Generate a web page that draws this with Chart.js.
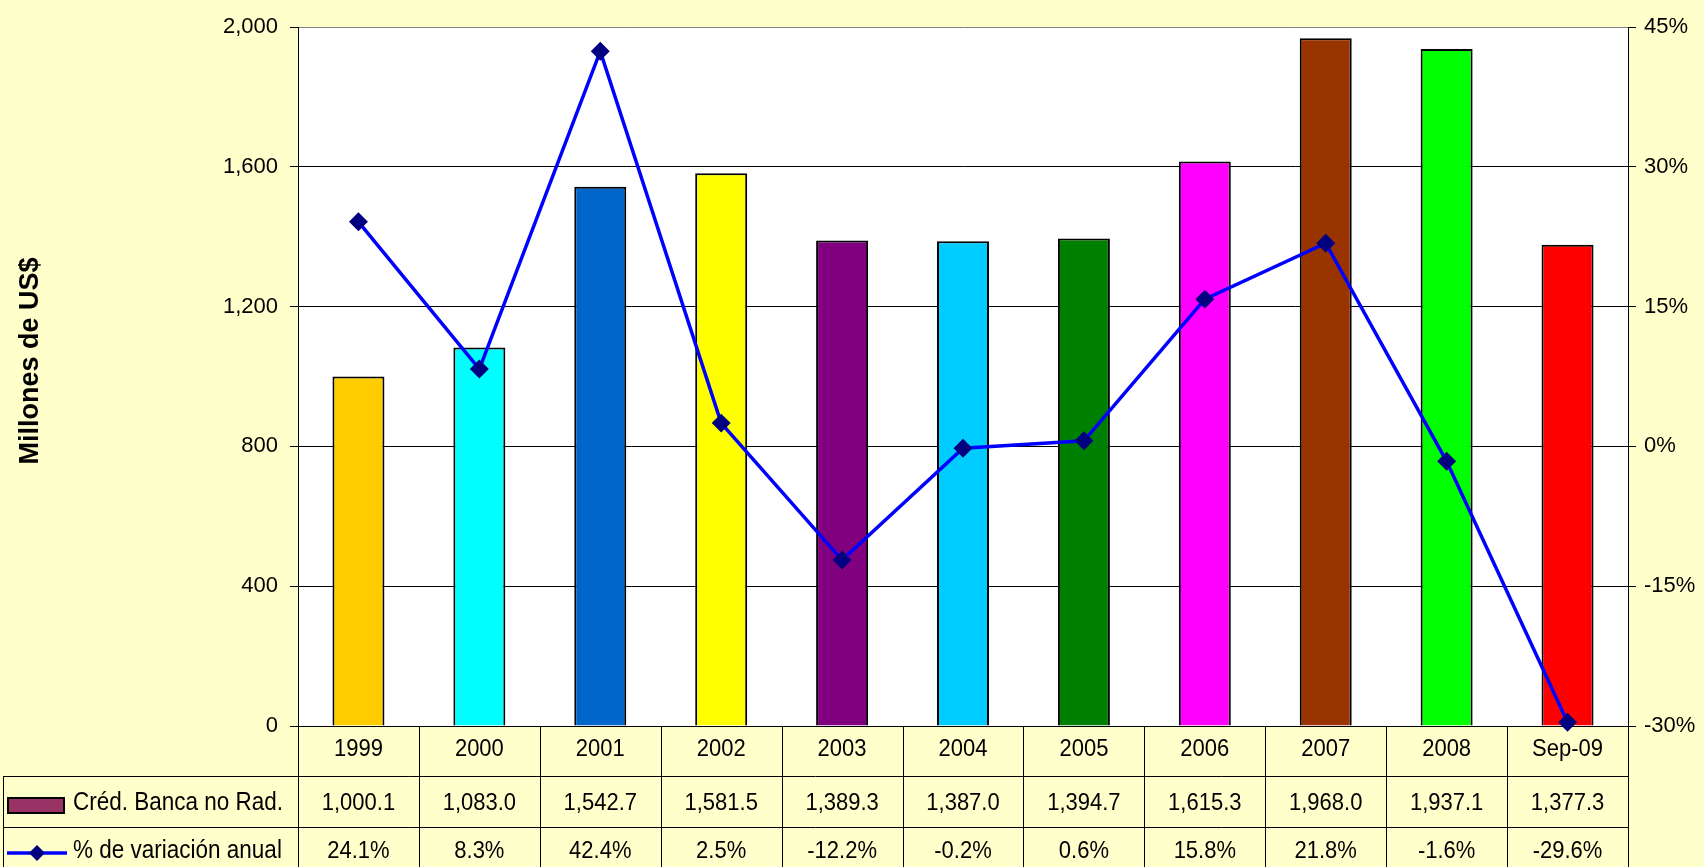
<!DOCTYPE html>
<html lang="es">
<head>
    <meta charset="UTF-8">
    <title>Créd. Banca no Rad.</title>
    <script src="https://cdn.jsdelivr.net/npm/chart.js"></script>
    <style>
        html, body { margin: 0; padding: 0; background: #FFFFCC; }
        #wrap { width: 1704px; height: 867px; }
    </style>
</head>
<body>
    <div id="wrap"><canvas id="myChart" width="1704" height="867"></canvas></div>

    <script>
        const categories = ['1999', '2000', '2001', '2002', '2003', '2004', '2005', '2006', '2007', '2008', 'Sep-09'];
        const credito = [1000.1, 1083.0, 1542.7, 1581.5, 1389.3, 1387.0, 1394.7, 1615.3, 1968.0, 1937.1, 1377.3];
        const variacion = [24.1, 8.3, 42.4, 2.5, -12.2, -0.2, 0.6, 15.8, 21.8, -1.6, -29.6];
        const barColors = ['#FFCC00', '#00FFFF', '#0066CC', '#FFFF00', '#800080', '#00CCFF', '#008000', '#FF00FF', '#993300', '#00FF00', '#FF0000'];
        const leftTicks = [0, 400, 800, 1200, 1600, 2000];
        const rightTicks = [-30, -15, 0, 15, 30, 45];

        const FONT = 'Liberation Sans, Arial, sans-serif';

        // slightly taller text, like the original
        function tallText(ctx, s, x, y) {
            ctx.save();
            ctx.translate(x, y);
            ctx.scale(1, 1.12);
            ctx.fillText(s, 0, 0);
            ctx.restore();
        }

        // background, axis title and data table under the plot
        const tablePlugin = {
            id: 'tablePlugin',
            beforeDraw(chart) {
                const { ctx, chartArea: a } = chart;
                ctx.save();
                ctx.fillStyle = '#FFFFCC';
                ctx.fillRect(0, 0, chart.width, chart.height);
                ctx.fillStyle = '#FFFFFF';
                ctx.fillRect(a.left, a.top, a.right - a.left, a.bottom - a.top);
                ctx.restore();
            },
            afterDraw(chart) {
                const { ctx, chartArea: a } = chart;
                const x = chart.scales.x;
                const n = categories.length;
                const w = (a.right - a.left) / n;
                const r1 = a.bottom, r2 = a.bottom + 50, r3 = a.bottom + 101, bot = chart.height;
                const tLeft = 3;
                ctx.save();

                // y axis title
                ctx.save();
                ctx.translate(31, 361);
                ctx.rotate(-Math.PI / 2);
                ctx.font = 'bold 27px ' + FONT;
                ctx.fillStyle = '#000000';
                ctx.textAlign = 'center';
                ctx.textBaseline = 'middle';
                ctx.fillText('Millones de US$', 0, 0);
                ctx.restore();

                ctx.strokeStyle = '#000000';
                ctx.lineWidth = 1;
                ctx.beginPath();
                for (let i = 0; i <= n; i++) {
                    const xx = Math.round(a.left + i * w) + 0.5;
                    ctx.moveTo(xx, r1); ctx.lineTo(xx, bot);
                }
                ctx.moveTo(tLeft + 0.5, r2); ctx.lineTo(tLeft + 0.5, bot);
                ctx.moveTo(tLeft, r2 + 0.5); ctx.lineTo(a.right, r2 + 0.5);
                ctx.moveTo(tLeft, r3 + 0.5); ctx.lineTo(a.right, r3 + 0.5);
                ctx.stroke();

                ctx.fillStyle = '#000000';
                ctx.font = '22px ' + FONT;
                ctx.textAlign = 'center';
                ctx.textBaseline = 'middle';
                categories.forEach((c, i) => {
                    const cx = x.getPixelForValue(i);
                    tallText(ctx, c, cx, r1 + 23);
                    tallText(ctx, credito[i].toLocaleString('en-US', { minimumFractionDigits: 1, maximumFractionDigits: 1 }), cx, r2 + 27);
                    tallText(ctx, variacion[i].toFixed(1) + '%', cx, r3 + 24);
                });

                // legend keys
                ctx.textAlign = 'left';
                ctx.fillStyle = '#993366';
                ctx.fillRect(8, r2 + 22, 56, 15);
                ctx.lineWidth = 2;
                ctx.strokeRect(8, r2 + 22, 56, 15);
                ctx.fillStyle = '#000000';
                ctx.font = '22.5px ' + FONT;
                tallText(ctx, 'Créd. Banca no Rad.', 73, r2 + 27);

                ctx.strokeStyle = '#0000FF';
                ctx.lineWidth = 3.5;
                ctx.beginPath();
                ctx.moveTo(7, r3 + 26); ctx.lineTo(67, r3 + 26);
                ctx.stroke();
                ctx.fillStyle = '#000080';
                ctx.beginPath();
                ctx.moveTo(37, r3 + 18); ctx.lineTo(45, r3 + 26); ctx.lineTo(37, r3 + 34); ctx.lineTo(29, r3 + 26);
                ctx.closePath(); ctx.fill();
                ctx.fillStyle = '#000000';
                tallText(ctx, '% de variación anual', 73, r3 + 24);
                ctx.restore();
            }
        };

        const ctx = document.getElementById('myChart').getContext('2d');
        const myChart = new Chart(ctx, {
            data: {
                labels: categories,
                datasets: [{
                    type: 'line',
                    label: '% de variación anual',
                    data: variacion,
                    yAxisID: 'y1',
                    borderColor: '#0000FF',
                    borderWidth: 3.5,
                    pointStyle: 'rectRot',
                    pointRadius: 7,
                    pointBackgroundColor: '#000080',
                    pointBorderColor: '#000080',
                    tension: 0,
                    clip: false,
                    order: 0
                }, {
                    type: 'bar',
                    label: 'Créd. Banca no Rad.',
                    data: credito,
                    yAxisID: 'y',
                    backgroundColor: barColors,
                    borderColor: '#000000',
                    borderWidth: 2,
                    categoryPercentage: 1,
                    barPercentage: 0.43,
                    order: 1
                }]
            },
            options: {
                responsive: false,
                animation: false,
                layout: { padding: { top: 27, left: 0, right: 0, bottom: 0 } },
                plugins: {
                    legend: { display: false },
                    tooltip: { enabled: false }
                },
                scales: {
                    x: {
                        grid: { display: false },
                        border: { color: '#000000', width: 1 },
                        ticks: { display: false },
                        afterFit(s) { s.height = 141; }
                    },
                    y: {
                        position: 'left',
                        min: 0,
                        max: 2000,
                        afterBuildTicks(s) { s.ticks = leftTicks.map(v => ({ value: v })); },
                        ticks: {
                            font: { family: FONT, size: 22 },
                            color: '#000000',
                            padding: 12,
                            callback: v => v.toLocaleString('en-US')
                        },
                        grid: {
                            color: c => c.tick && c.tick.value === 2000 ? '#808080' : '#000000',
                            tickLength: 8,
                            tickColor: '#000000'
                        },
                        border: { color: '#000000', width: 1 },
                        afterFit(s) { s.width = 298; }
                    },
                    y1: {
                        position: 'right',
                        min: -30,
                        max: 45,
                        afterBuildTicks(s) { s.ticks = rightTicks.map(v => ({ value: v })); },
                        ticks: {
                            font: { family: FONT, size: 22 },
                            color: '#000000',
                            padding: 8,
                            callback: v => v + '%'
                        },
                        grid: {
                            drawOnChartArea: false,
                            tickLength: 8,
                            color: '#000000'
                        },
                        border: { color: '#000000', width: 1 },
                        afterFit(s) { s.width = 76; }
                    }
                }
            },
            plugins: [tablePlugin]
        });
    </script>
</body>
</html>
